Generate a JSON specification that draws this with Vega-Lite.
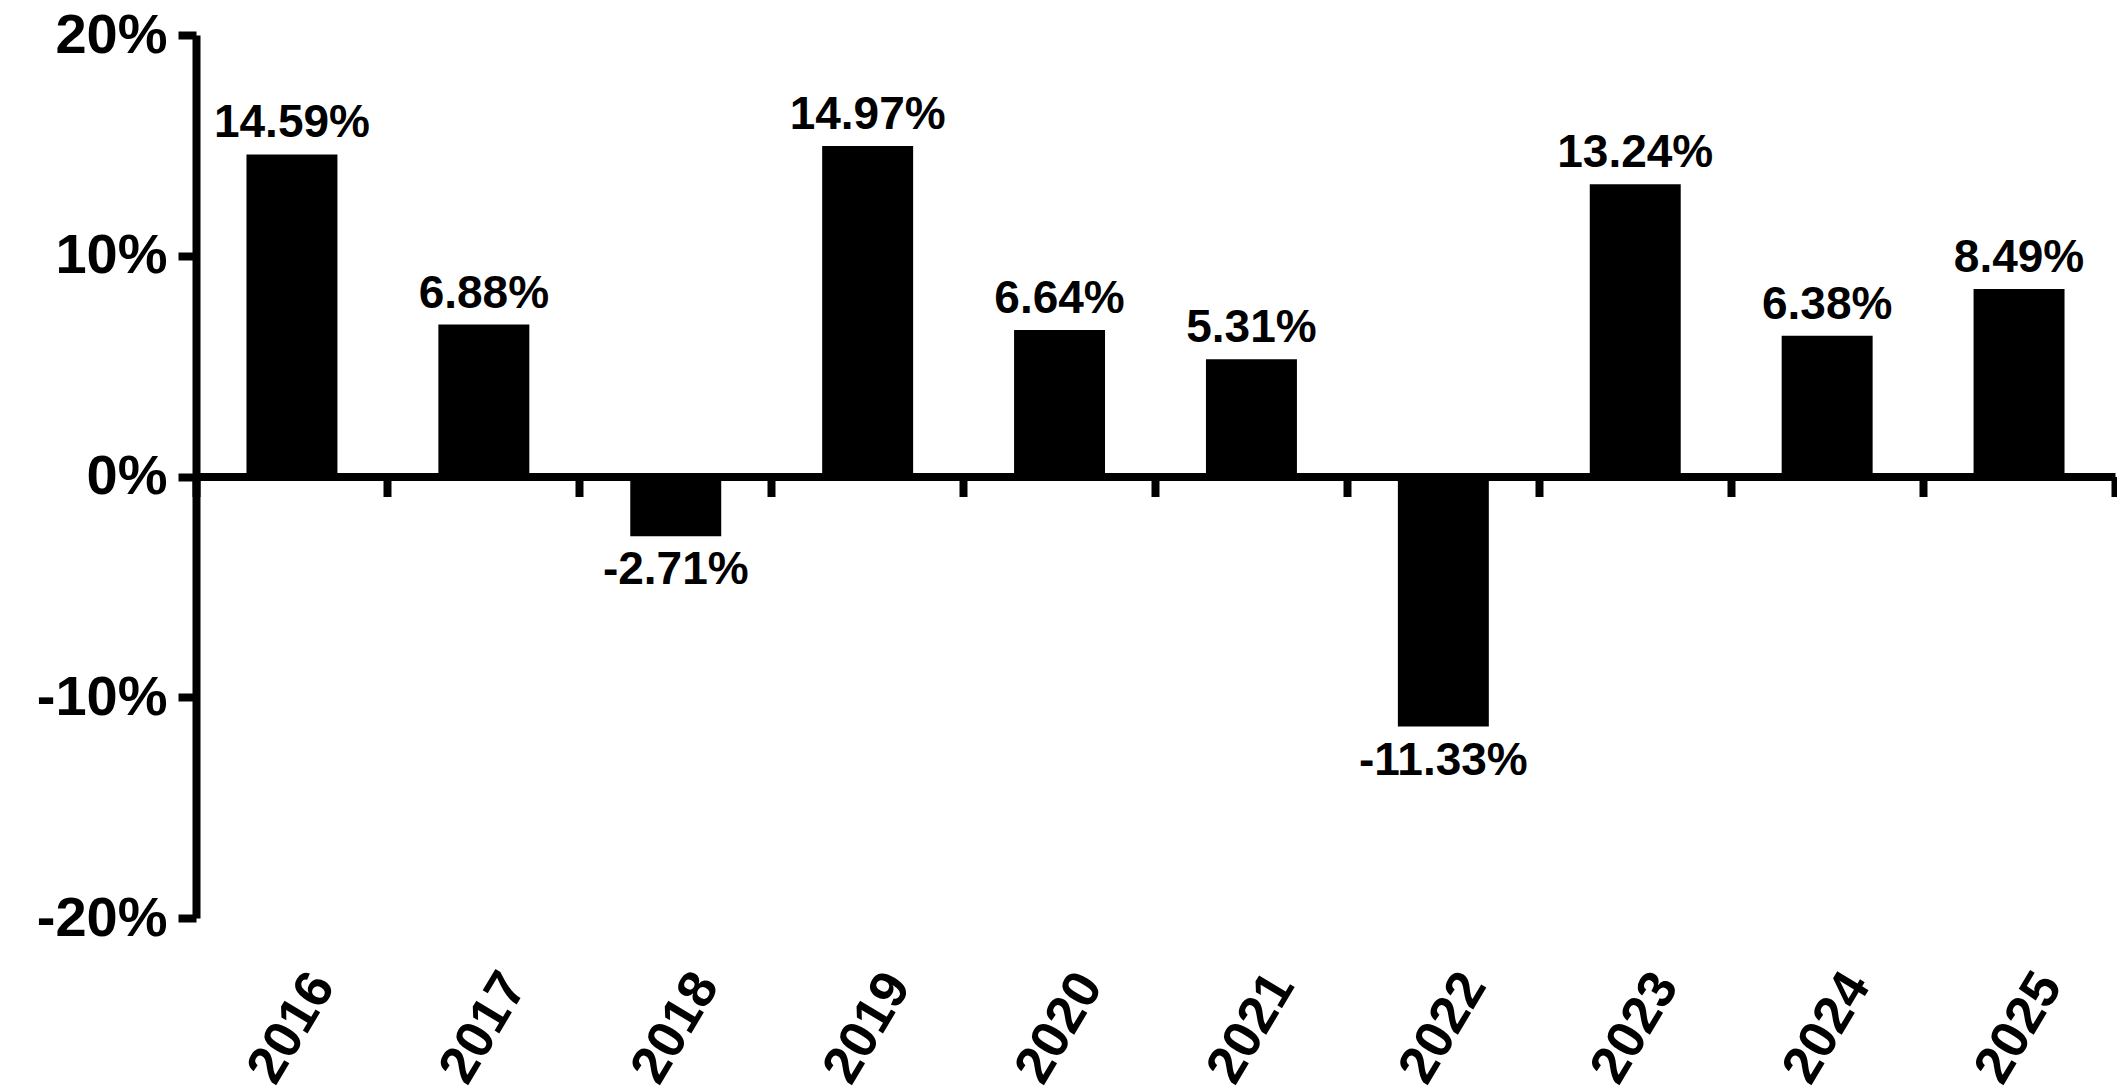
{
  "$schema": "https://vega.github.io/schema/vega-lite/v6.json",
  "autosize": "none",
  "width": 1919,
  "height": 883,
  "padding": {"left": 196, "top": 35, "right": 2, "bottom": 174},
  "background": "white",
  "config": {
    "view": {"stroke": null},
    "font": "Liberation Sans",
    "locale": {"number": {"decimal": ".", "thousands": ",", "grouping": [3], "currency": ["$", ""], "minus": "-"}}
  },
  "data": {
    "values": [
      {"year": "2016", "ret": 0.1459},
      {"year": "2017", "ret": 0.0688},
      {"year": "2018", "ret": -0.0271},
      {"year": "2019", "ret": 0.1497},
      {"year": "2020", "ret": 0.0664},
      {"year": "2021", "ret": 0.0531},
      {"year": "2022", "ret": -0.1133},
      {"year": "2023", "ret": 0.1324},
      {"year": "2024", "ret": 0.0638},
      {"year": "2025", "ret": 0.0849}
    ]
  },
  "encoding": {
    "x": {
      "field": "year",
      "type": "ordinal",
      "sort": null,
      "scale": {"paddingInner": 0, "paddingOuter": 0},
      "axis": {
        "orient": "bottom",
        "offset": -441.5,
        "title": null,
        "grid": false,
        "domainWidth": 8,
        "domainColor": "black",
        "tickWidth": 8,
        "tickSize": 20,
        "tickColor": "black",
        "bandPosition": 1,
        "tickExtra": true,
        "labelAngle": -59,
        "labelAlign": "center",
        "labelBaseline": "middle",
        "labelFont": "Liberation Sans",
        "labelFontSize": 53,
        "labelFontWeight": "bold",
        "labelColor": "black",
        "labelPadding": 531,
        "labelOffset": 0,
        "labelOverlap": false,
        "labelFlush": false,
        "labelBound": false
      }
    },
    "y": {
      "field": "ret",
      "type": "quantitative",
      "scale": {"domain": [-0.2, 0.2], "nice": false, "zero": true},
      "axis": {
        "title": null,
        "grid": false,
        "values": [-0.2, -0.1, 0, 0.1, 0.2],
        "format": ".0%",
        "domainWidth": 8,
        "domainColor": "black",
        "tickWidth": 8,
        "tickSize": 18,
        "tickColor": "black",
        "labelFont": "Liberation Sans",
        "labelFontSize": 56,
        "labelFontWeight": "bold",
        "labelColor": "black",
        "labelPadding": 11
      }
    }
  },
  "layer": [
    {
      "mark": {"type": "bar", "color": "black", "width": {"band": 0.474}}
    },
    {
      "transform": [{"filter": "datum.ret >= 0"}],
      "mark": {"type": "text", "baseline": "alphabetic", "dy": -17, "fontSize": 46, "fontWeight": "bold", "color": "black", "font": "Liberation Sans"},
      "encoding": {"text": {"field": "ret", "type": "quantitative", "format": ".2%"}}
    },
    {
      "transform": [{"filter": "datum.ret < 0"}],
      "mark": {"type": "text", "baseline": "top", "dy": 12, "fontSize": 46, "fontWeight": "bold", "color": "black", "font": "Liberation Sans"},
      "encoding": {"text": {"field": "ret", "type": "quantitative", "format": ".2%"}}
    }
  ]
}
